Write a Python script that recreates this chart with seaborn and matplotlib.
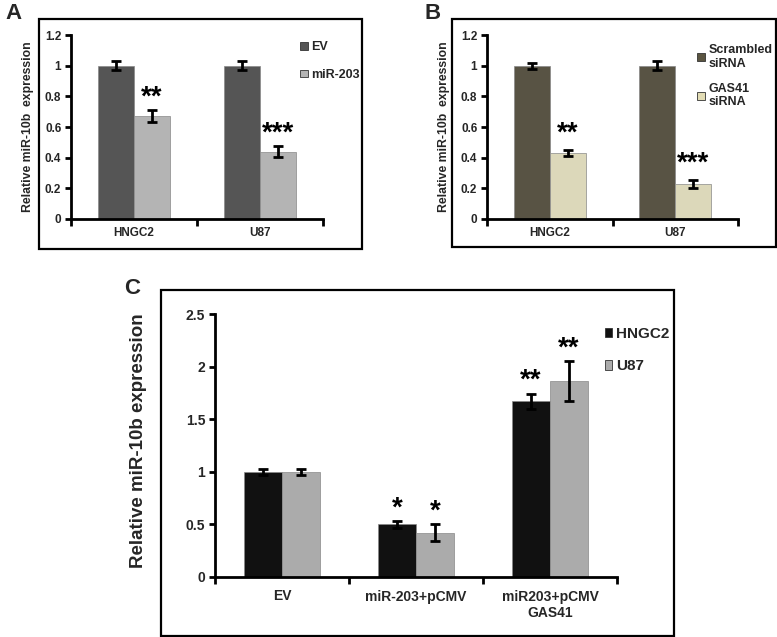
import matplotlib
matplotlib.use("Agg")
import matplotlib.pyplot as plt
from matplotlib.patches import Rectangle, Patch
import seaborn as sns
import pandas as pd
import numpy as np

# ---------------- data ----------------
cells = ["HNGC2", "U87"]

a_groups = ["EV", "miR-203"]
a_ev = [1.00, 1.00]
a_ev_err = [0.03, 0.03]
a_mir = [0.67, 0.44]
a_mir_err = [0.04, 0.035]
a_stars = ["**", "***"]

b_groups = ["Scrambled\nsiRNA", "GAS41\nsiRNA"]
b_scr = [1.00, 1.00]
b_scr_err = [0.02, 0.03]
b_gas = [0.43, 0.23]
b_gas_err = [0.02, 0.025]
b_stars = ["**", "***"]

c_conditions = ["EV", "miR-203+pCMV", "miR203+pCMV\nGAS41"]
c_groups = ["HNGC2", "U87"]
c_hngc2 = [1.00, 0.50, 1.67]
c_hngc2_err = [0.03, 0.03, 0.07]
c_u87 = [1.00, 0.42, 1.86]
c_u87_err = [0.03, 0.08, 0.19]
c_stars_hngc2 = ["", "*", "**"]
c_stars_u87 = ["", "*", "**"]

# ---------------- style ----------------
sns.set_theme(style="white")
plt.rcParams["font.family"] = ["Liberation Sans", "DejaVu Sans"]
plt.rcParams["font.weight"] = "bold"

W, H = 777, 637
fig = plt.figure(figsize=(W / 100, H / 100), dpi=100)


def fx(px):
    return px / W


def fy(py):
    return 1 - py / H


def panel_box(x0, y0, x1, y1):
    fig.patches.append(Rectangle((fx(x0), fy(y1)), fx(x1) - fx(x0), fy(y0) - fy(y1),
                                 transform=fig.transFigure, fill=False,
                                 edgecolor="black", linewidth=1.6, zorder=0))


def draw_panel(ax, cats, groups, vals, errs, colors, ylim, yticks, ytlabels,
               ylabel, ylabel_fs, tick_fs, stars, star_fs, star_pad, xpad):
    rows = []
    for g, v in zip(groups, vals):
        for c, val in zip(cats, v):
            rows.append({"cat": c, "group": g, "value": val})
    df = pd.DataFrame(rows)
    sns.barplot(data=df, x="cat", y="value", hue="group", order=cats,
                hue_order=groups, palette=colors, width=0.57, errorbar=None,
                ax=ax, edgecolor="#888888", linewidth=0.5, legend=False)
    for cont, v, e, st in zip(ax.containers, vals, errs, stars):
        xs = [p.get_x() + p.get_width() / 2 for p in cont.patches]
        ax.errorbar(xs, v, yerr=e, fmt="none", ecolor="black", elinewidth=2,
                    capsize=3.5, capthick=2, zorder=5)
        for x, val, err, s in zip(xs, v, e, st):
            if s:
                ax.text(x, val + err + star_pad, s, ha="center", va="bottom",
                        fontsize=star_fs, fontweight="bold", color="black")
    ax.set_xlim(-0.5, len(cats) - 0.5)
    ax.set_ylim(*ylim)
    ax.set_yticks(yticks)
    ax.set_yticklabels(ytlabels, fontsize=tick_fs, fontweight="bold")
    ax.set_xticks(range(len(cats)))
    ax.set_xticklabels(cats, fontsize=tick_fs, fontweight="bold")
    ax.set_xticks(np.arange(-0.5, len(cats), 1.0), minor=True)
    ax.tick_params(axis="x", which="major", length=0, pad=xpad)
    ax.tick_params(axis="x", which="minor", length=5, width=2, direction="out",
                   color="black", bottom=True)
    ax.tick_params(axis="y", length=4, width=2, direction="out", color="black",
                   left=True, pad=3)
    ax.set_xlabel("")
    ax.set_ylabel(ylabel, fontsize=ylabel_fs, fontweight="bold")
    for s in ["top", "right"]:
        ax.spines[s].set_visible(False)
    for s in ["left", "bottom"]:
        ax.spines[s].set_linewidth(2)
        ax.spines[s].set_color("black")
    ax.set_facecolor("none")


# ---------------- panel A ----------------
panel_box(39, 19, 362, 249)
axA = fig.add_axes([fx(71), fy(219), fx(323) - fx(71), fy(35) - fy(219)])
colA = ["#555555", "#b4b4b4"]
draw_panel(axA, cells, a_groups, [a_ev, a_mir], [a_ev_err, a_mir_err], colA,
           (0, 1.2), [0, 0.2, 0.4, 0.6, 0.8, 1.0, 1.2],
           ["0", "0.2", "0.4", "0.6", "0.8", "1", "1.2"],
           "Relative miR-10b  expression", 8.8, 8.5,
           [["", ""], a_stars], 20, 0.0, 6)
axA.yaxis.set_label_coords((28 - 71) / (323 - 71), 0.5)
axA.yaxis.label.set_va("center")
axA.legend(handles=[Patch(facecolor=c, edgecolor="#333333", linewidth=0.6) for c in colA],
           labels=a_groups, loc="upper left", bbox_to_anchor=(fx(289), fy(30)),
           bbox_transform=fig.transFigure, frameon=False, handlelength=0.6,
           handleheight=0.6, handletextpad=0.3, labelspacing=1.25,
           prop={"size": 9, "weight": "bold"})
fig.text(fx(5), fy(3), "A", fontsize=16, fontweight="bold", va="top", ha="left")

# ---------------- panel B ----------------
panel_box(452, 19, 776, 247)
axB = fig.add_axes([fx(487), fy(219), fx(738) - fx(487), fy(35) - fy(219)])
colB = ["#5b5541", "#e2dcb4"]
draw_panel(axB, cells, b_groups, [b_scr, b_gas], [b_scr_err, b_gas_err], colB,
           (0, 1.2), [0, 0.2, 0.4, 0.6, 0.8, 1.0, 1.2],
           ["0", "0.2", "0.4", "0.6", "0.8", "1", "1.2"],
           "Relative miR-10b  expression", 8.8, 8.5,
           [["", ""], b_stars], 20, 0.02, 6)
axB.yaxis.set_label_coords((444 - 487) / (738 - 487), 0.5)
axB.yaxis.label.set_va("center")
axB.legend(handles=[Patch(facecolor=c, edgecolor="#333333", linewidth=0.6) for c in colB],
           labels=b_groups, loc="upper left", bbox_to_anchor=(fx(686), fy(33)),
           bbox_transform=fig.transFigure, frameon=False, handlelength=0.6,
           handleheight=0.6, handletextpad=0.3, labelspacing=1.0,
           prop={"size": 9, "weight": "bold"})
fig.text(fx(425), fy(3), "B", fontsize=16, fontweight="bold", va="top", ha="left")

# ---------------- panel C ----------------
panel_box(161, 290, 674, 636)
axC = fig.add_axes([fx(215), fy(577), fx(617) - fx(215), fy(314) - fy(577)])
colC = ["#111111", "#ababab"]
draw_panel(axC, c_conditions, c_groups, [c_hngc2, c_u87], [c_hngc2_err, c_u87_err],
           colC, (0, 2.5), [0, 0.5, 1.0, 1.5, 2.0, 2.5],
           ["0", "0.5", "1", "1.5", "2", "2.5"],
           "Relative miR-10b expression", 13.5, 10,
           [c_stars_hngc2, c_stars_u87], 20, 0.0, 9)
axC.yaxis.set_label_coords((138 - 215) / (617 - 215), 0.52)
axC.yaxis.label.set_va("center")
axC.legend(handles=[Patch(facecolor=c, edgecolor="#333333", linewidth=0.6) for c in colC],
           labels=c_groups, loc="upper left", bbox_to_anchor=(fx(591), fy(313)),
           bbox_transform=fig.transFigure, frameon=False, handlelength=0.5,
           handleheight=0.6, handletextpad=0.25, labelspacing=1.2,
           prop={"size": 11, "weight": "bold"})
fig.text(fx(124), fy(278), "C", fontsize=16, fontweight="bold", va="top", ha="left")

fig.savefig("out.png", dpi=100)
